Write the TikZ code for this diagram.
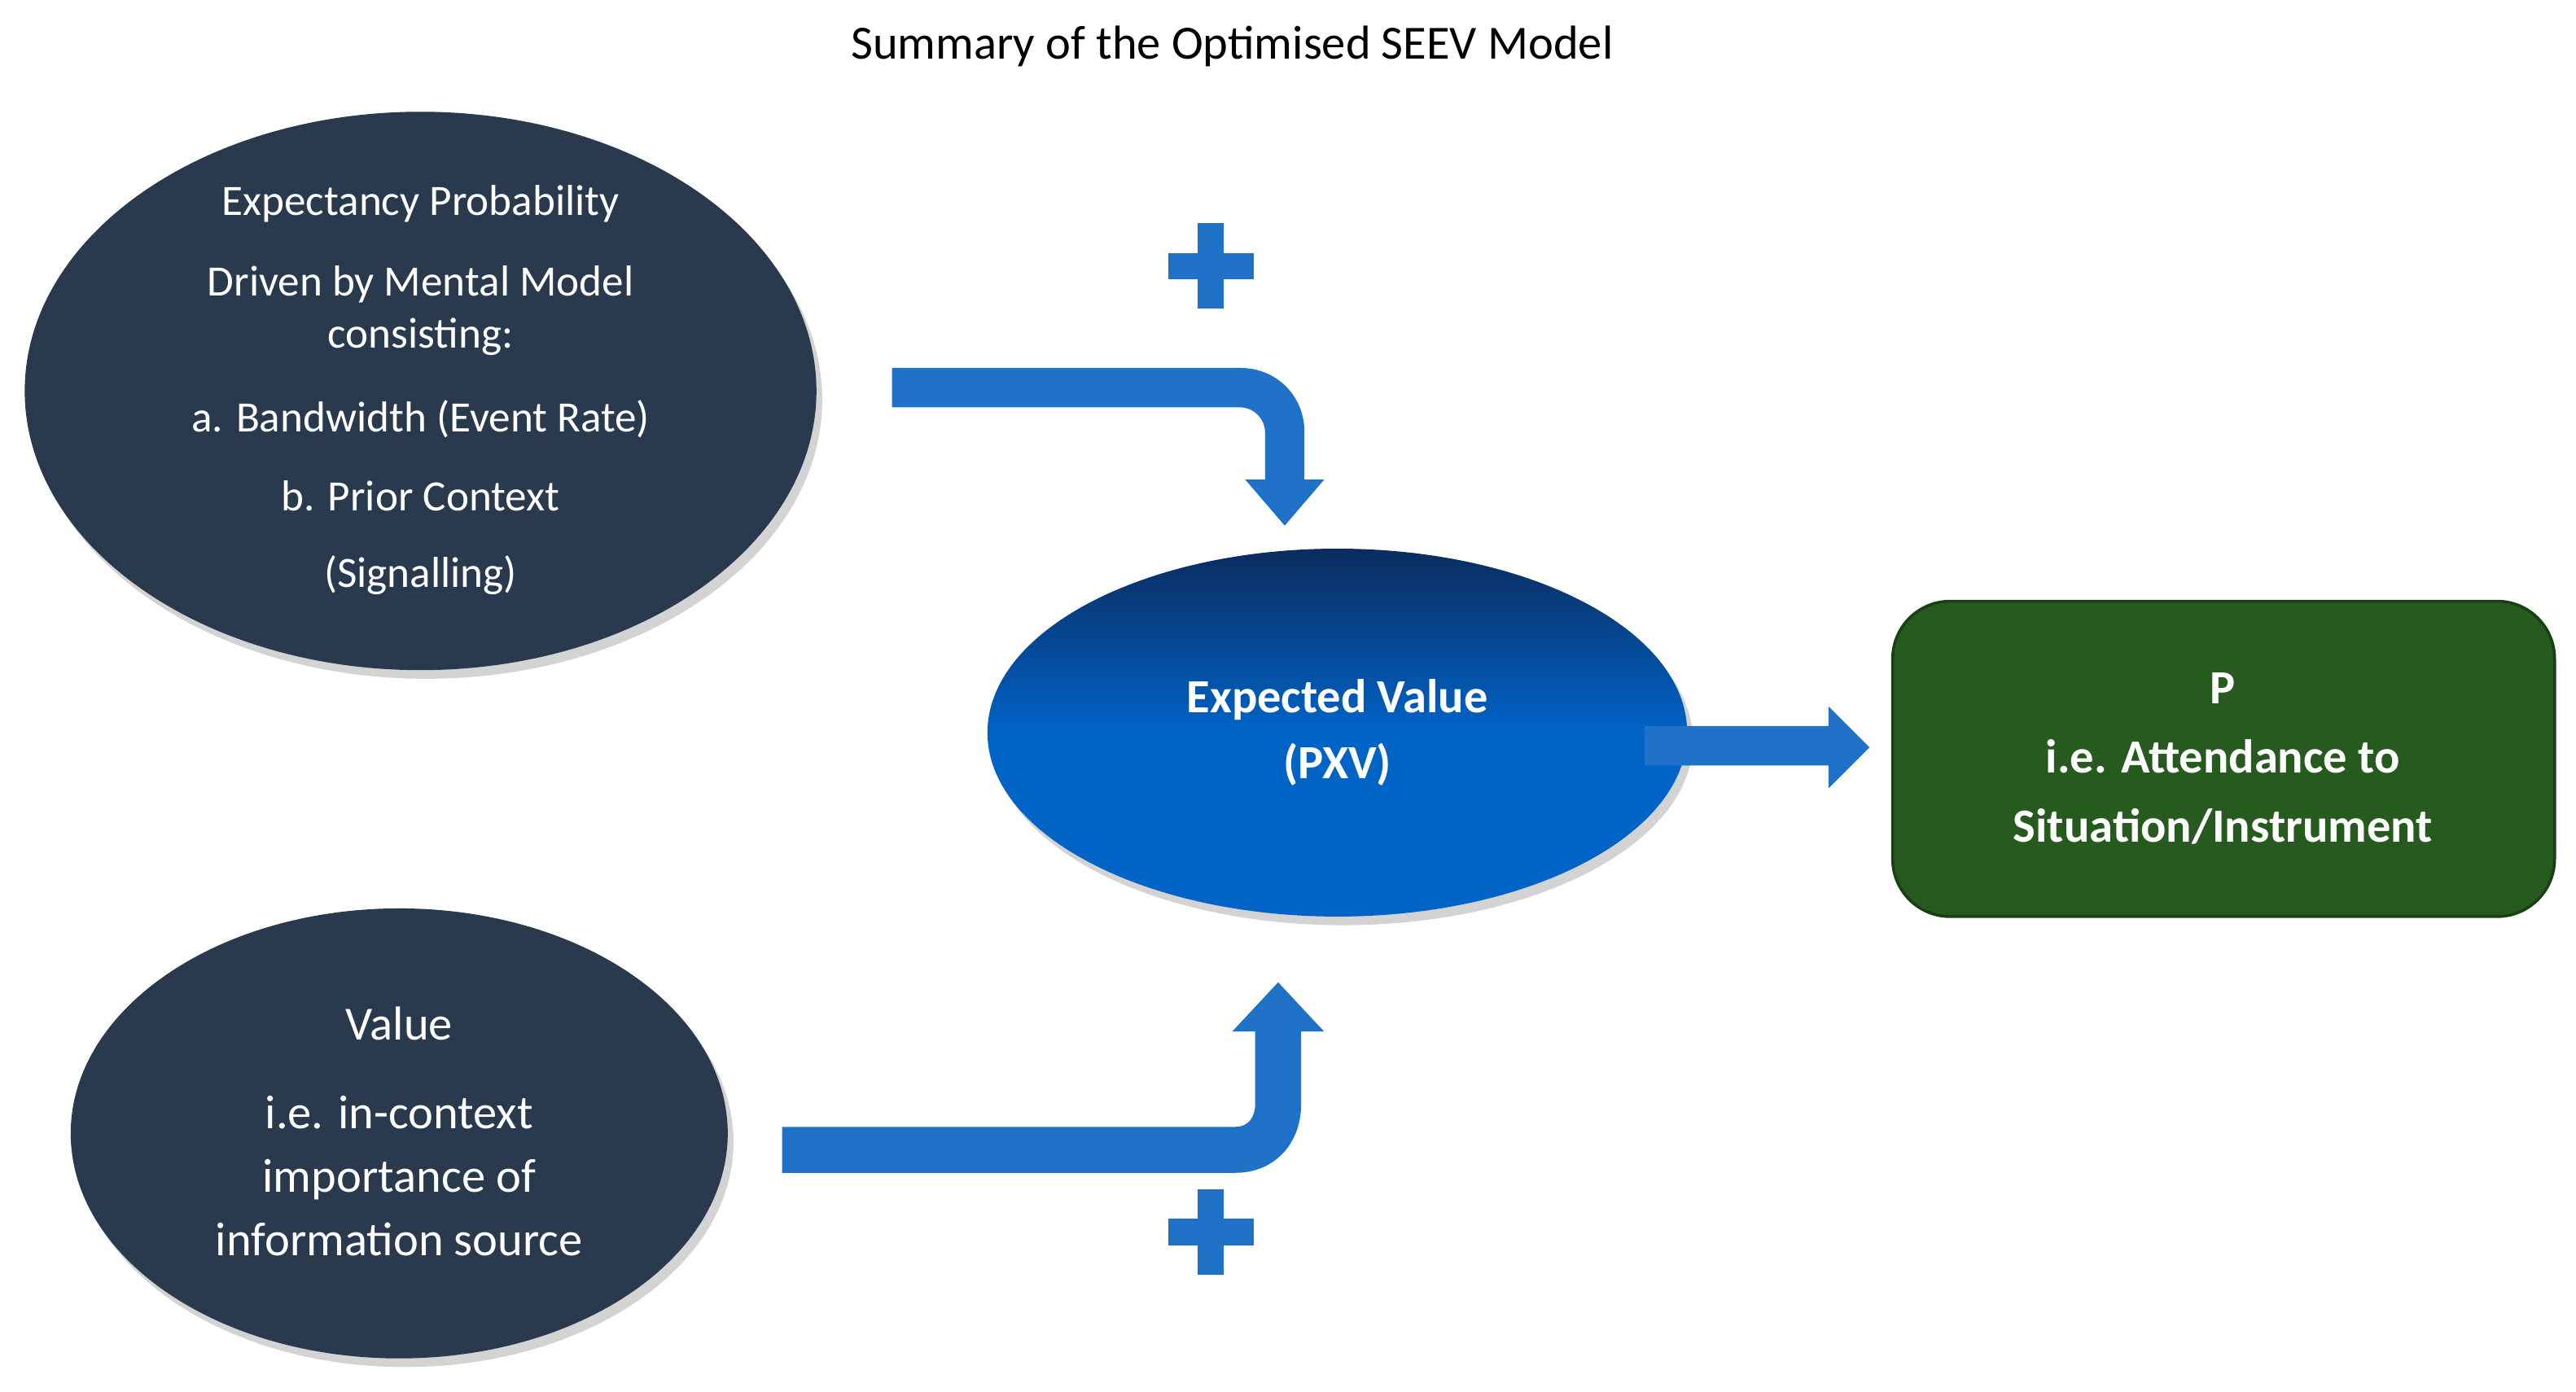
\documentclass[tikz,border=0pt]{standalone}
\usepackage{fontspec}
\setmainfont{Carlito}
\usetikzlibrary{shadows,shapes.geometric}
\definecolor{dark}{HTML}{2A3A4E}
\definecolor{arr}{HTML}{1F72C8}
\definecolor{grn}{HTML}{265A1E}
\definecolor{navy}{HTML}{0A2C5E}
\definecolor{blu}{HTML}{0063C6}
\begin{document}
\begin{tikzpicture}[x=0.02cm,y=-0.02cm,
  ell/.style={ellipse,fill=dark,draw=none,inner sep=0,drop shadow={opacity=0.35,shadow xshift=2pt,shadow yshift=-3pt}},
  t/.style={text=white,font=\fontsize{15}{18}\selectfont,align=center},
  tv/.style={text=white,font=\fontsize{16.5}{20}\selectfont,align=center},
  tb/.style={text=white,font=\bfseries\fontsize{16.5}{20}\selectfont,align=center},
  ar/.style={fill=arr,draw=none}]
\useasboundingbox (0,0) rectangle (1568,847);
\node[font=\fontsize{16.5}{20}\selectfont] (title) at (750,28) {Summary of the Optimised SEEV Model};
% ellipses
\node[ell,minimum width=482\pgflinewidth*0+9.64cm,minimum height=6.8cm] (e1) at (256,238) {};
\node[ell,minimum width=8cm,minimum height=5.48cm] (e2) at (243,690) {};
\node[ellipse,inner sep=0,minimum width=8.52cm,minimum height=4.48cm,top color=navy,bottom color=blu,middle color=blu,shading angle=0,
  drop shadow={opacity=0.35,shadow xshift=2pt,shadow yshift=-3pt}] (ev) at (814,446) {};
\node[draw=grn!70!black,line width=1pt,fill=grn,rounded corners=0.7cm,minimum width=8.06cm,minimum height=3.84cm] (p) at (1353.5,462) {};
% texts
\node[t] (l1) at (256,124) {Expectancy Probability};
\node[t] (l2) at (256,189) {Driven by Mental Model\\consisting:};
\node[t] (l3) at (256,255) {a. Bandwidth (Event Rate)};
\node[t] (l4) at (256,302) {b. Prior Context};
\node[t] (l5) at (256,350) {(Signalling)};
\node[tv] (v1) at (243,623) {Value};
\node[tv,font=\fontsize{16.5}{22}\selectfont] (v2) at (243,716) {i.e. in-context\\importance of\\information source};
\node[tb,font=\bfseries\fontsize{16.5}{23}\selectfont] (evt) at (814,446) {Expected Value\\(PXV)};
\node[tb,font=\bfseries\fontsize{16.5}{24}\selectfont] (pt) at (1353,462) {P\\i.e. Attendance to\\Situation/Instrument};
% plus signs
\foreach \n/\y in {pa/162,pb/750}{
  \coordinate (\n) at (737,\y);
  \fill[arr] (711,\y-8) rectangle (763,\y+8);
  \fill[arr] (729,\y-26) rectangle (745,\y+26);
}
% upper arrow
\fill[ar] (543,224) -- (755,224) .. controls (777,224) and (794,241) .. (794,263)
  -- (794,292) -- (806,292) -- (782,320) -- (758,292) -- (770,292) -- (770,263)
  .. controls (770,255) and (763,248) .. (755,248) -- (543,248) -- cycle;
% lower arrow
\fill[ar] (476,686) -- (752,686) .. controls (760,686) and (764,680) .. (764,672)
  -- (764,628) -- (750,628) -- (778,598) -- (806,628) -- (792,628) -- (792,672)
  .. controls (792,697) and (775,714) .. (752,714) -- (476,714) -- cycle;
% right arrow
\fill[ar] (1001,442) -- (1113,442) -- (1113,430) -- (1138,455) -- (1113,480) -- (1113,466) -- (1001,466) -- cycle;
\end{tikzpicture}
\end{document}
